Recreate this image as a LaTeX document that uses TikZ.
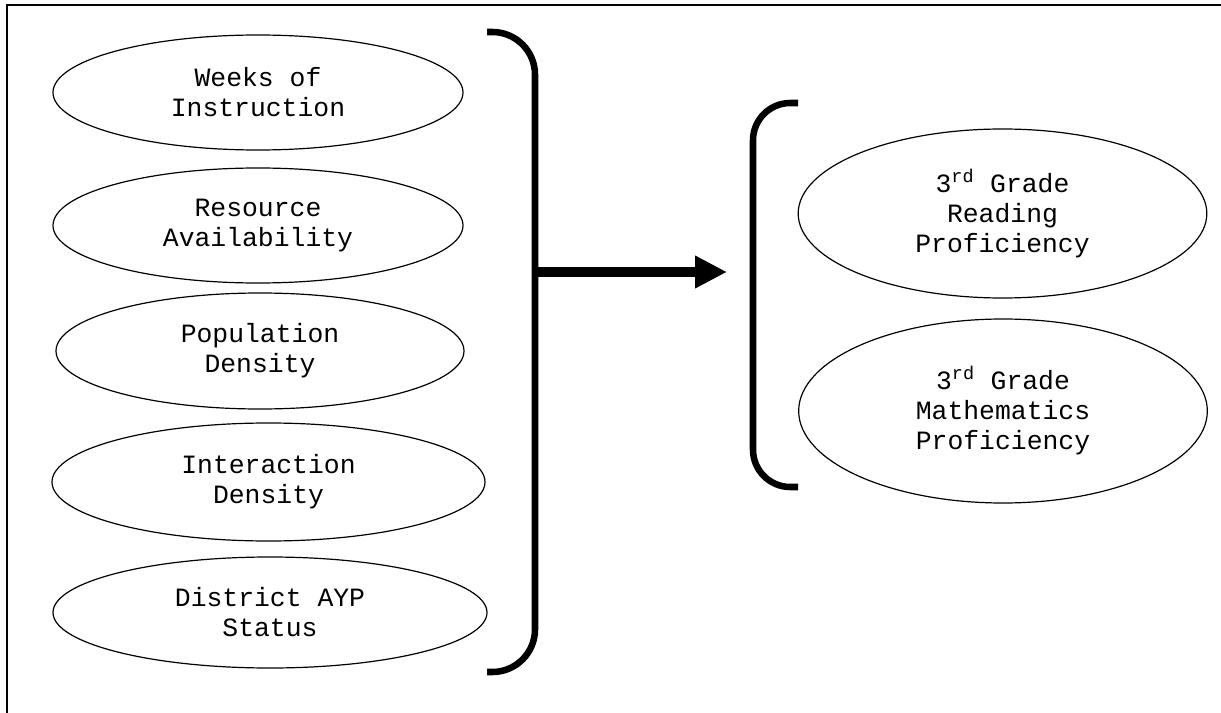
\documentclass[tikz,border=0pt]{standalone}
\usepackage{fontspec}
\setmonofont{Liberation Mono}
\usetikzlibrary{arrows.meta,shapes.geometric}
\tikzset{
  factorbox/.style={ellipse, draw=black, line width=.9pt, inner sep=0pt,
    align=center, font=\ttfamily\fontsize{19.8}{22.5}\selectfont},
  outcomebox/.style={factorbox, minimum width=306.5pt},
  bracketline/.style={line width=4.9pt, draw=black},
  mainflow/.style={-{Triangle[length=24pt,width=23pt]}, line width=7.5pt, draw=black},
  frameline/.style={line width=1.5pt, draw=black}
}

\begin{document}
\begin{tikzpicture}[x=0.75pt, y=-0.75pt]
  \useasboundingbox (0,0) rectangle (1221,713);
  \draw[frameline] (1221,5) -- (7,5) -- (7,713);

  % predictors
  \node[factorbox, minimum width=307.5pt, minimum height=86.25pt] (weeks) at (258,92.5) {Weeks of\\Instruction};
  \node[factorbox, minimum width=307.5pt, minimum height=86.25pt] (resource) at (258,225.5) {Resource\\Availability};
  \node[factorbox, minimum width=306pt, minimum height=87pt] (popdens) at (260,351) {Population\\Density};
  \node[factorbox, minimum width=324.75pt, minimum height=88.5pt] (interdens) at (268.5,482) {Interaction\\Density};
  \node[factorbox, minimum width=325.5pt, minimum height=83.25pt] (ayp) at (270,612.5) {District AYP\\Status};

  % outcomes
  \node[outcomebox, minimum height=126.75pt] (reading) at (1002.5,213.5) {3\textsuperscript{rd} Grade\\Reading\\Proficiency};
  \node[outcomebox, minimum height=138pt] (math) at (1003,411) {3\textsuperscript{rd} Grade\\Mathematics\\Proficiency};

  \draw[bracketline, rounded corners=32pt] (487,32) -- (535,32) -- (535,672) -- (487,672);
  \draw[bracketline, rounded corners=28pt] (798,103) -- (753,103) -- (753,487) -- (798,487);

  \coordinate (predbar) at (535,272);
  \coordinate (outbar) at (727,272);
  \draw[mainflow] (predbar) -- (outbar);
\end{tikzpicture}
\end{document}
